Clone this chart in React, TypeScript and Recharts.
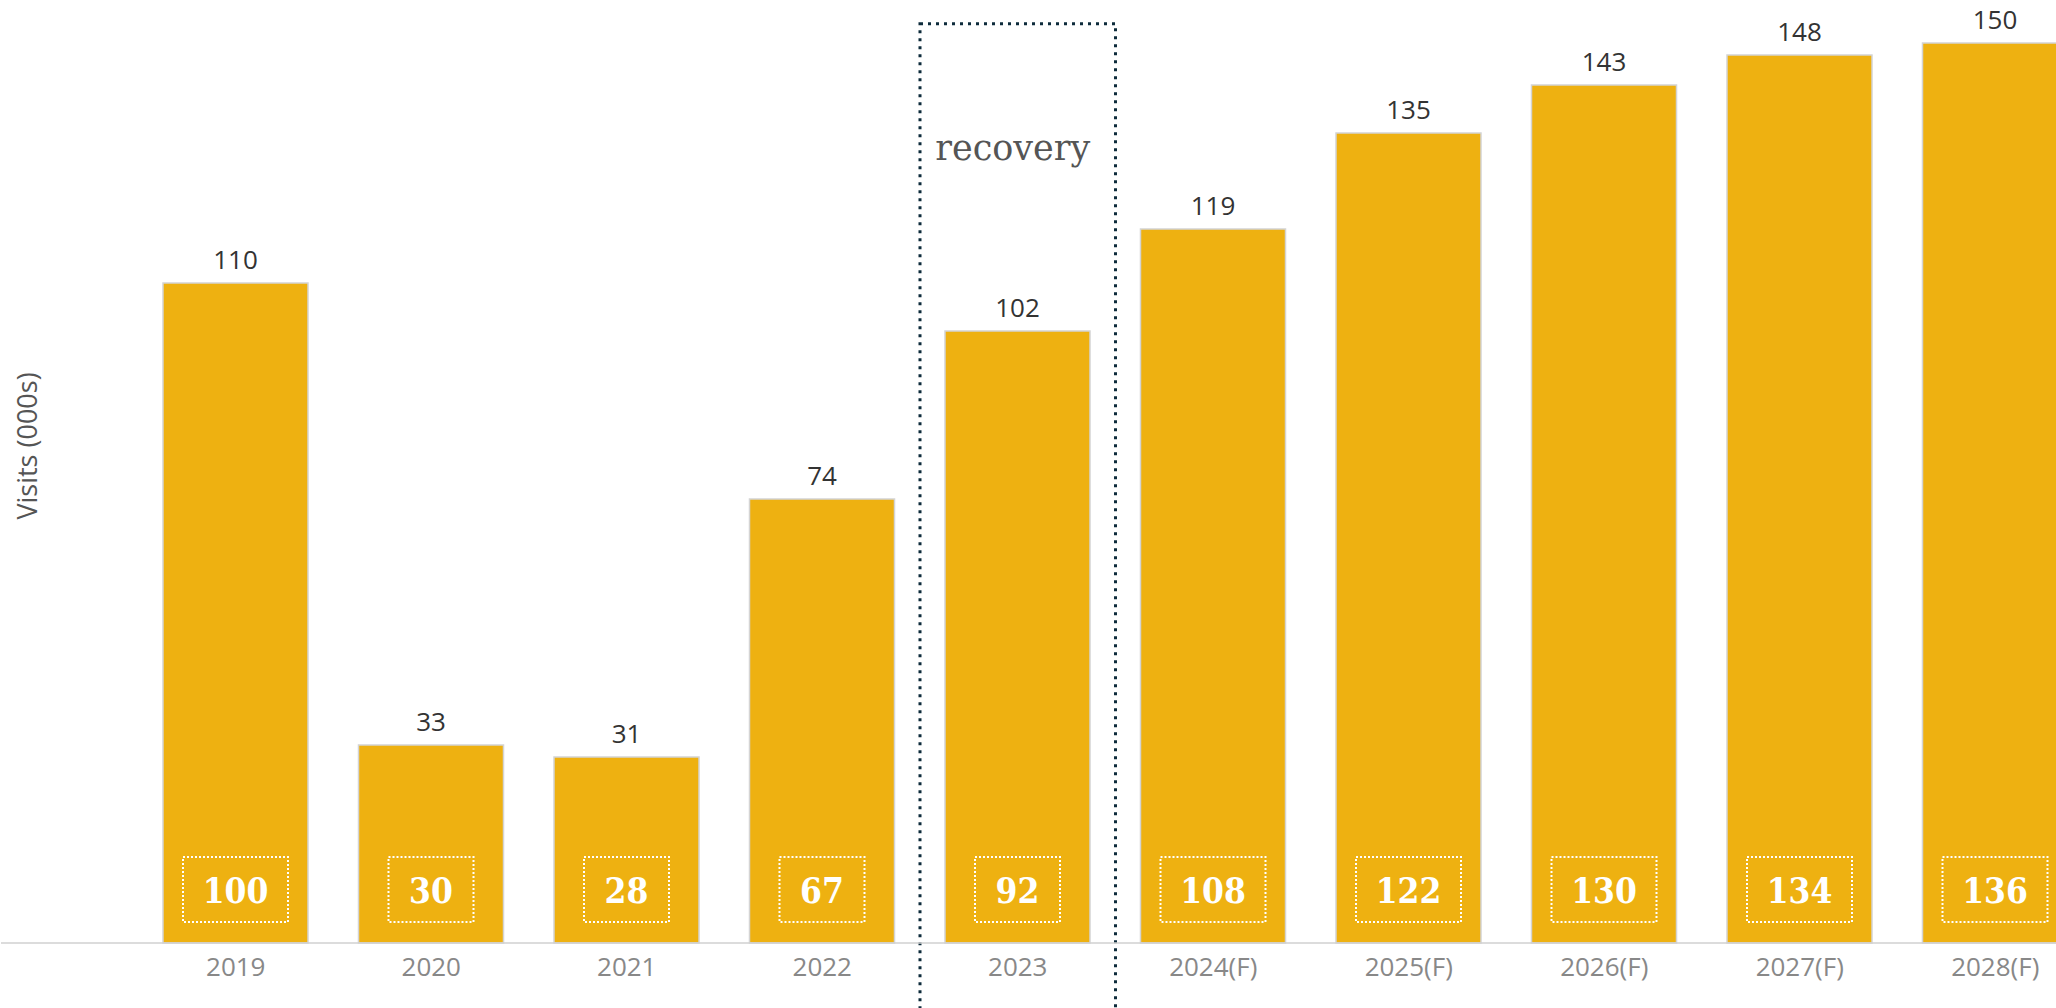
import React from "react"
import {
  BarChart,
  Bar,
  XAxis,
  YAxis,
  LabelList,
  ReferenceArea,
} from "recharts"

const years = ["2019", "2020", "2021", "2022", "2023", "2024(F)", "2025(F)", "2026(F)", "2027(F)", "2028(F)"]
const totalVisits = [110, 33, 31, 74, 102, 119, 135, 143, 148, 150]
const baseVisits = [100, 30, 28, 67, 92, 108, 122, 130, 134, 136]
const highlightYear = "2023"
const highlightLabel = "recovery"

const SANS = "'Open Sans', 'Noto Sans', sans-serif"
const SLAB = "'DejaVu Serif Condensed', 'DejaVu Serif', serif"

const data = years.map((year, i) => ({
  year,
  total: totalVisits[i],
  base: baseVisits[i],
}))

// white figure in a dotted box near the foot of each bar
function BaseLabel(props: any) {
  const vb = props.viewBox ?? {}
  const x = Number(props.x ?? vb.x)
  const y = Number(props.y ?? vb.y)
  const w = Number(props.width ?? vb.width)
  const h = Number(props.height ?? vb.height)
  const text = String(props.value)
  const cx = x + w / 2
  const bottom = y + h
  const boxW = text.length * 20 + 45
  return (
    <g>
      <rect
        x={cx - boxW / 2}
        y={bottom - 86}
        width={boxW}
        height={65}
        fill="none"
        stroke="#ffffff"
        strokeWidth={2}
        strokeDasharray="2 2"
      />
      <text
        x={cx}
        y={bottom - 40}
        textAnchor="middle"
        fill="#ffffff"
        fontSize={35}
        fontWeight={700}
        fontFamily={SLAB}
        style={{ fontStretch: "condensed" }}
      >
        {text}
      </text>
    </g>
  )
}

export default function App() {
  return (
    <div style={{ position: "absolute", left: 0, top: 0, width: 2056, height: 1008, overflow: "hidden", background: "#fff" }}>
      <BarChart
        width={2093}
        height={1030}
        data={data}
        margin={{ top: 43, right: 0, bottom: 0, left: 0 }}
      >
        <XAxis
          dataKey="year"
          height={87}
          padding={{ left: 137, right: 0 }}
          tickLine={false}
          tickSize={6}
          tickMargin={9}
          axisLine={{ stroke: "#d0d0d0", strokeWidth: 1.5 }}
          tick={{ fill: "#888888", fontSize: 26, fontFamily: SANS }}
          interval={0}
        />
        <YAxis
          width={1}
          domain={[0, 150]}
          tick={false}
          tickLine={false}
          axisLine={false}
          label={{
            value: "Visits (000s)",
            angle: -90,
            position: "center",
            dx: 27,
            dy: -47,
            fill: "#555555",
            fontSize: 27,
            fontFamily: SANS,
          }}
        />
        <Bar
          dataKey="total"
          barSize={145}
          fill="#EEB111"
          stroke="#d4d4d4"
          strokeWidth={1.5}
          isAnimationActive={false}
        >
          <LabelList
            dataKey="total"
            position="top"
            offset={14}
            fill="#333333"
            fontSize={26}
            fontFamily={SANS}
          />
          <LabelList dataKey="base" content={(p: any) => <BaseLabel {...p} />} />
        </Bar>
        <ReferenceArea
          x1={highlightYear}
          x2={highlightYear}
          y1={-15}
          y2={153.2}
          ifOverflow="visible"
          fill="none"
          fillOpacity={0}
          stroke="#0d2b3b"
          strokeWidth={3}
          strokeDasharray="3 5"
          label={{
            value: highlightLabel,
            position: "insideTop",
            offset: 111,
            dx: -5,
            fill: "#555555",
            fontSize: 35,
            fontFamily: "'DejaVu Serif', serif",
          }}
        />
      </BarChart>
    </div>
  )
}
